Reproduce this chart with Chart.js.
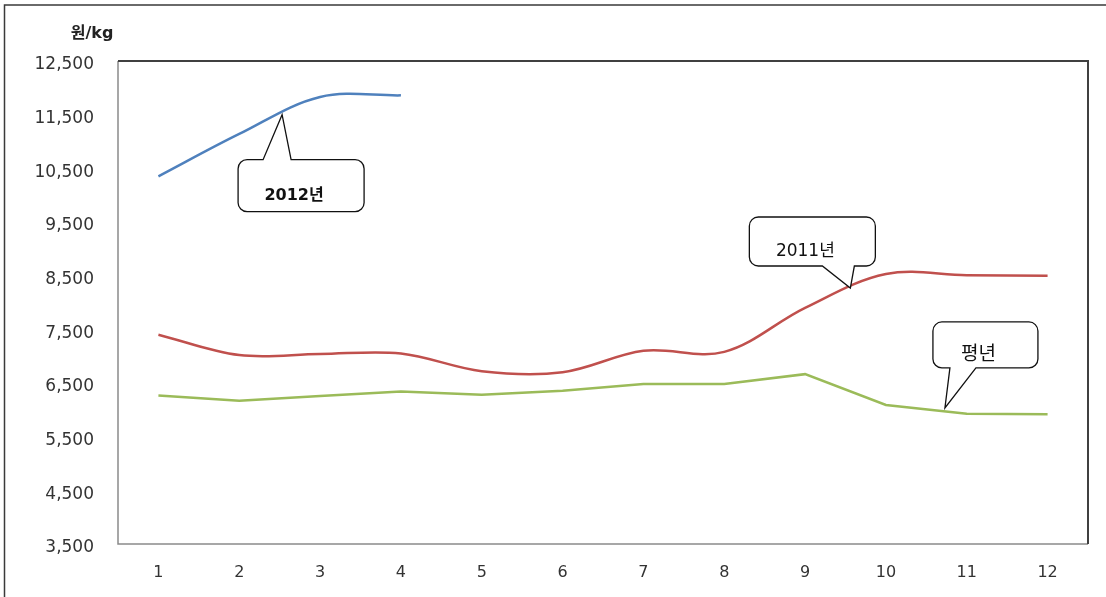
<!DOCTYPE html>
<html>
<head>
  <meta charset="UTF-8">
  <script src="https://cdn.jsdelivr.net/npm/chart.js"></script>
  <style>
    html, body { margin: 0; padding: 0; background: #fff; }
    #wrap { width: 1106px; height: 597px; position: relative; }
  </style>
  <script>
var months = ['1', '2', '3', '4', '5', '6', '7', '8', '9', '10', '11', '12'];
var y2012 = [10350, 11140, 11830, 11860];
var y2011 = [7400, 7020, 7040, 7050, 6720, 6700, 7100, 7080, 7900, 8530, 8510, 8500];
var yNormal = [6265, 6170, 6260, 6340, 6280, 6355, 6480, 6480, 6665, 6090, 5925, 5920];
var yTicks = [3500, 4500, 5500, 6500, 7500, 8500, 9500, 10500, 11500, 12500];
var unitLabel = '원/kg';

var FONT = "'DejaVu Sans', 'Noto Sans CJK KR', sans-serif";

// callout: tip sits on the curve (index, value), box is placed relative to the tip
var callouts = [
  { text: '2012년', idx: 1.53, val: 11500, bold: true, size: 16, side: 'top',
    box: [-44, 45, 126, 52], base: [-19, 9] },
  { text: '2011년', idx: 8.56, val: 8270, bold: false, size: 17, side: 'bottom',
    box: [-101, -71, 126, 49], base: [-28, 4] },
  { text: '평년', idx: 9.73, val: 6035, bold: false, size: 19, side: 'bottom',
    box: [-12, -86, 105, 46], base: [5, 31] }
];

var framePlugin = {
  id: 'frame',
  beforeDatasetsDraw: function (chart) {
    var c = chart.ctx, a = chart.chartArea;
    c.save();
    // outer picture border (left + top)
    c.strokeStyle = '#3a3a3a';
    c.lineWidth = 1.5;
    c.beginPath();
    c.moveTo(4.5, 597);
    c.lineTo(4.5, 5);
    c.lineTo(1106, 5);
    c.stroke();
    // plot area box
    c.lineWidth = 1.5;
    c.strokeStyle = '#8a8a8a';
    c.beginPath();
    c.moveTo(a.left, a.top);
    c.lineTo(a.left, a.bottom);
    c.lineTo(a.right, a.bottom);
    c.stroke();
    c.strokeStyle = '#404040';
    c.lineWidth = 2;
    c.beginPath();
    c.moveTo(a.left, a.top);
    c.lineTo(a.right, a.top);
    c.lineTo(a.right, a.bottom);
    c.stroke();
    // unit label
    c.fillStyle = '#222';
    c.font = 'bold 16px ' + FONT;
    c.textAlign = 'center';
    c.textBaseline = 'middle';
    c.fillText(unitLabel, 92, 34);
    c.restore();
  },
  afterDatasetsDraw: function (chart) {
    var c = chart.ctx;
    var xs = chart.scales.x, ys = chart.scales.y;
    c.save();
    callouts.forEach(function (co) {
      var tx = xs.getPixelForValue(co.idx);
      var ty = ys.getPixelForValue(co.val);
      var l = tx + co.box[0], t = ty + co.box[1];
      var r = l + co.box[2], b = t + co.box[3];
      var b1 = tx + co.base[0], b2 = tx + co.base[1];
      var rad = 9;
      c.beginPath();
      c.moveTo(l + rad, t);
      if (co.side === 'top') {
        c.lineTo(b1, t); c.lineTo(tx, ty); c.lineTo(b2, t);
      }
      c.lineTo(r - rad, t);
      c.arcTo(r, t, r, t + rad, rad);
      c.lineTo(r, b - rad);
      c.arcTo(r, b, r - rad, b, rad);
      if (co.side === 'bottom') {
        c.lineTo(b2, b); c.lineTo(tx, ty); c.lineTo(b1, b);
      }
      c.lineTo(l + rad, b);
      c.arcTo(l, b, l, b - rad, rad);
      c.lineTo(l, t + rad);
      c.arcTo(l, t, l + rad, t, rad);
      c.closePath();
      c.fillStyle = '#fff';
      c.fill();
      c.strokeStyle = '#111';
      c.lineWidth = 1.3;
      c.stroke();
      // text sits a bit left of and below the box centre
      c.fillStyle = '#111';
      c.font = (co.bold ? 'bold ' : '') + co.size + 'px ' + FONT;
      c.textAlign = 'center';
      c.textBaseline = 'middle';
      c.fillText(co.text, l + co.box[2] / 2 - 7, t + co.box[3] / 2 + 10);
    });
    c.restore();
  }
};

function makeChart() {
  var ctx = document.getElementById('priceChart').getContext('2d');
  new Chart(ctx, {
    type: 'line',
    data: {
      labels: months,
      datasets: [{
        label: '2012년',
        data: y2012,
        borderColor: '#4F81BD',
        borderWidth: 2.5,
        tension: 0.35,
        pointRadius: 0,
        fill: false
      }, {
        label: '2011년',
        data: y2011,
        borderColor: '#C0504D',
        borderWidth: 2.5,
        tension: 0.35,
        pointRadius: 0,
        fill: false
      }, {
        label: '평년',
        data: yNormal,
        borderColor: '#9BBB59',
        borderWidth: 2.5,
        tension: 0,
        pointRadius: 0,
        fill: false
      }]
    },
    options: {
      responsive: false,
      animation: false,
      layout: { padding: { top: 61, right: 18, left: 0, bottom: 0 } },
      plugins: { legend: { display: false }, tooltip: { enabled: false } },
      scales: {
        x: {
          offset: true,
          grid: { display: false, drawTicks: false },
          border: { display: false },
          ticks: { color: '#333', font: { family: FONT, size: 16 }, padding: 19, maxRotation: 0 },
          afterFit: function (s) { s.height = 53; }
        },
        y: {
          min: 3500,
          max: 12500,
          afterBuildTicks: function (s) { s.ticks = yTicks.map(function (v) { return { value: v }; }); },
          grid: { display: false, drawTicks: false },
          border: { display: false },
          ticks: {
            color: '#333',
            font: { family: FONT, size: 17 },
            padding: 24,
            labelOffset: 4,
            callback: function (v) { return v.toLocaleString('en-US'); }
          },
          afterFit: function (s) { s.width = 118; }
        }
      }
    },
    plugins: [framePlugin]
  });
}
  </script>
</head>
<body>
  <div id="wrap">
    <canvas id="priceChart" width="1106" height="597"></canvas>
  </div>
  <script>
    makeChart();
  </script>
</body>
</html>
